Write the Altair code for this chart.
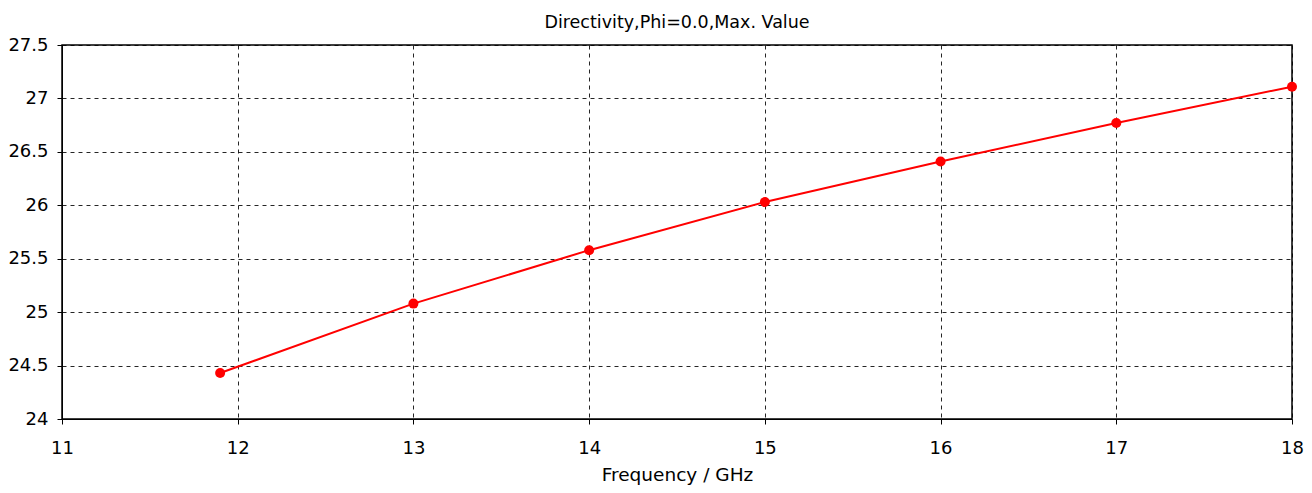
import altair as alt
import pandas as pd

freq = [11.9, 13, 14, 15, 16, 17, 18]
directivity = [24.43, 25.08, 25.58, 26.03, 26.41, 26.77, 27.11]

df = pd.DataFrame({"freq": freq, "dir": directivity})

FONT = "DejaVu Sans"

x = alt.X("freq:Q", title="Frequency / GHz",
          scale=alt.Scale(domain=[11, 18], nice=False, zero=False),
          axis=alt.Axis(values=list(range(11, 19)), format="d", labelFlush=False))
y = alt.Y("dir:Q", title=None,
          scale=alt.Scale(domain=[24, 27.5], nice=False, zero=False),
          axis=alt.Axis(values=[24, 24.5, 25, 25.5, 26, 26.5, 27, 27.5], format="~g", labelFlush=False))

base = alt.Chart(df).encode(x=x, y=y)
line = base.mark_line(color="#ff0000", strokeWidth=2)
pts = base.mark_circle(color="#ff0000", size=100, opacity=1)

chart = (line + pts).properties(
    width=1230, height=374,
    title=alt.Title("Directivity,Phi=0.0,Max. Value", fontSize=17.5, font=FONT,
                    fontWeight="normal", color="#000000", offset=5),
    autosize=alt.AutoSizeParams(type="none"),
    padding={"left": 54, "top": 37, "right": 12, "bottom": 72},
).configure_axis(
    domainColor="#000000", domainWidth=1,
    tickColor="#000000", tickSize=5,
    gridColor="#000000", gridDash=[4, 4], gridOpacity=0.85, gridWidth=1,
    labelFont=FONT, labelFontSize=18, labelColor="#000000",
    titleFont=FONT, titleFontSize=18.5, titleColor="#000000", titleFontWeight="normal",
).configure_axisX(labelPadding=15, titlePadding=8).configure_axisY(labelPadding=9
).configure_view(stroke="#000000", strokeWidth=1.5)

chart.save("out.html", embed_options={"renderer": "svg", "actions": False})
